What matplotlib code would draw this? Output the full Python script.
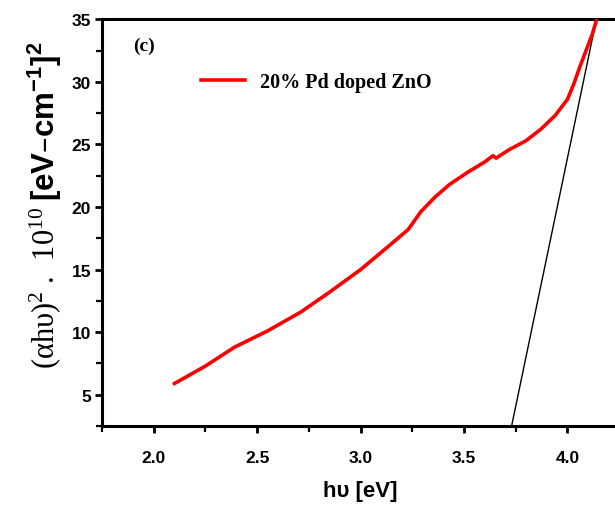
import matplotlib
matplotlib.use("Agg")
import matplotlib.pyplot as plt
from matplotlib.ticker import MultipleLocator

energy = [2.10, 2.25, 2.39, 2.55, 2.71, 2.85, 3.00, 3.13, 3.23, 3.29, 3.36, 3.43,
          3.52, 3.60, 3.64, 3.655, 3.72, 3.80, 3.87, 3.94, 4.00, 4.03, 4.06, 4.09,
          4.12, 4.14]
absorb = [5.9, 7.3, 8.8, 10.1, 11.6, 13.2, 15.0, 16.8, 18.2, 19.6, 20.8, 21.8,
          22.8, 23.6, 24.1, 23.9, 24.6, 25.3, 26.2, 27.3, 28.6, 29.8, 31.2, 32.5,
          33.8, 34.9]
tangent_x = [3.73, 4.14]
tangent_y = [2.5, 35.0]
xticks = [2.0, 2.5, 3.0, 3.5, 4.0]
yticks = [5, 10, 15, 20, 25, 30, 35]
series_label = "20% Pd doped ZnO"

plt.rcParams['font.family'] = ['Liberation Sans', 'DejaVu Sans']

fig = plt.figure(figsize=(6.15, 5.06), dpi=100)
ax = fig.add_axes([0.166, 0.156, 0.834, 0.804])

ax.plot(energy, absorb, color='#ff0000', lw=2.6, label=series_label, zorder=3)
ax.plot(tangent_x, tangent_y, color='black', lw=1.0, zorder=2)

ax.set_xlim(1.75, 4.23)
ax.set_ylim(2.5, 35)
ax.set_xticks(xticks)
ax.set_yticks(yticks)
ax.xaxis.set_minor_locator(MultipleLocator(0.25))
ax.yaxis.set_minor_locator(MultipleLocator(2.5))
ax.set_xticklabels([f"{v:.1f}" for v in xticks])
ax.set_yticklabels([str(v) for v in yticks])

for s in ['left', 'bottom', 'top']:
    ax.spines[s].set_linewidth(2.2)
ax.spines['right'].set_visible(False)
ax.tick_params(which='major', direction='out', length=5, width=2, labelsize=12.5)
ax.tick_params(axis='x', which='major', pad=12)
ax.tick_params(axis='y', which='major', pad=3)
ax.tick_params(which='minor', direction='out', length=4, width=1.6)
ax.tick_params(top=False, right=False, which='both')
for lab in ax.get_xticklabels() + ax.get_yticklabels():
    lab.set_fontweight('bold')

fig.text(133/615, 1 - 46/506, "(c)", fontsize=14, fontweight='bold',
         family=['Liberation Serif', 'DejaVu Serif'], va='center', ha='left')

leg = ax.legend(loc='center left', bbox_to_anchor=(183/615, 1 - 83/506),
                bbox_transform=fig.transFigure, frameon=False,
                handlelength=2.2, handletextpad=0.7,
                prop={'family': ['Liberation Serif', 'DejaVu Serif'],
                      'weight': 'bold', 'size': 14.5})

# axis labels
fig.text(360/615, 1 - 492/506, "hυ [eV]", fontsize=16, fontweight='bold',
         ha='center', va='center')

fig.text(45/615, 1 - 207/506,
         r"(αhυ)$\mathregular{^2}$ .  10$\mathregular{^{10}}$",
         rotation=90, fontsize=22, fontweight='normal',
         family=['Liberation Serif', 'DejaVu Serif'], ha='center', va='top')
fig.text(45/615, 1 - 201/506,
         r"[eV–cm$\mathregular{^{-1}}$]$\mathregular{^2}$",
         rotation=90, fontsize=22.5, fontweight='bold', ha='center', va='bottom')

fig.savefig("out.png", dpi=100)
